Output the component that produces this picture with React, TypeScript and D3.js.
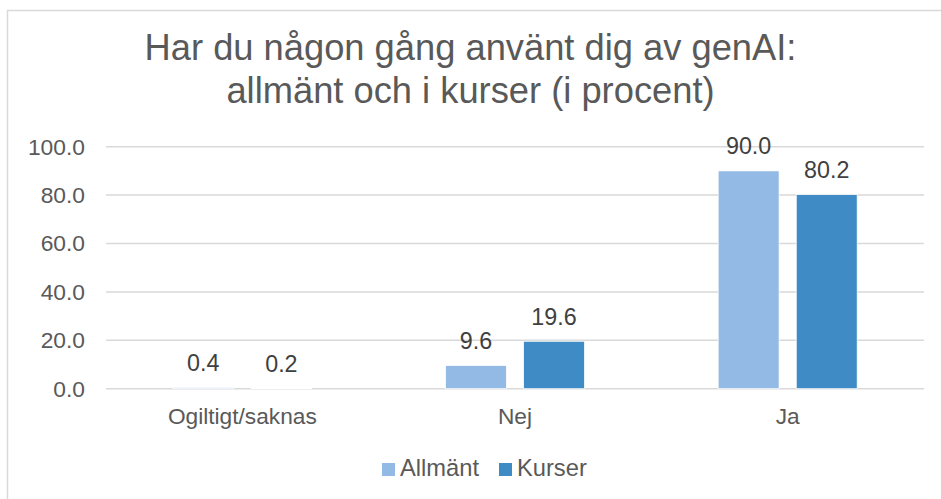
import React from "react";
import * as d3 from "d3";

const categories = ["Ogiltigt/saknas", "Nej", "Ja"];
const allmant = [0.4, 9.6, 90.0];
const kurser = [0.2, 19.6, 80.2];
const seriesNames = ["Allmänt", "Kurser"];
const yTicks = [0, 20, 40, 60, 80, 100];
const titleLines = ["Har du någon gång använt dig av genAI:", "allmänt och i kurser (i procent)"];

const W = 941;
const H = 499;
const colors = ["#93BAE5", "#3F8BC5"];
const FONT = "'Liberation Sans', Arial, sans-serif";

export default function App() {
  const x = d3.scaleBand<string>().domain(categories).range([106, 924]).paddingInner(0).paddingOuter(0);
  const y = d3.scaleLinear().domain([0, 100]).range([388.7, 146.7]);
  const sub = d3.scaleBand<string>().domain(seriesNames).range([0, 139]).paddingInner(0.22).paddingOuter(0);
  const groupOffset = (x.bandwidth() - 139) / 2;
  const series = [allmant, kurser];

  return (
    <svg width={W} height={H} style={{ position: "absolute", left: 0, top: 0, background: "#fff" }} fontFamily={FONT}>
      <rect x={0} y={0} width={W} height={H} fill="#fff" />
      <path d={`M7.5,${H + 2}V10.5H${W + 2}`} fill="none" stroke="#d9d9d9" strokeWidth={1.5} />
      {titleLines.map((t, i) => (
        <text key={i} x={470.5} y={59.5 + i * 43} textAnchor="middle" fontSize={36.3} fill="#595959">
          {t}
        </text>
      ))}
      {yTicks.map((t) => (
        <g key={t}>
          <line x1={106} x2={924} y1={y(t)} y2={y(t)} stroke="#d9d9d9" strokeWidth={1.5} />
          <text x={85} y={y(t)} dy="0.35em" textAnchor="end" fontSize={22.8} fill="#595959">
            {t.toFixed(1)}
          </text>
        </g>
      ))}
      {categories.map((c, ci) => (
        <g key={c}>
          {series.map((s, si) => {
            const bx = (x(c) as number) + groupOffset + (sub(seriesNames[si]) as number);
            const bw = sub.bandwidth();
            const v = s[ci];
            return (
              <g key={si}>
                <rect x={bx} y={y(v)} width={bw} height={y(0) - y(v)} fill={colors[si]} stroke="#fff" strokeWidth={0.75} />
                <text x={bx + bw / 2} y={y(v) - 16.5} textAnchor="middle" fontSize={23.3} fill="#404040">
                  {v.toFixed(1)}
                </text>
              </g>
            );
          })}
          <text x={(x(c) as number) + x.bandwidth() / 2} y={424} textAnchor="middle" fontSize={22.7} fill="#595959">
            {c}
          </text>
        </g>
      ))}
      <g>
        <rect x={382} y={463} width={13} height={13} fill={colors[0]} />
        <text x={400} y={476} fontSize={23.7} fill="#595959">{seriesNames[0]}</text>
        <rect x={499} y={463} width={13} height={13} fill={colors[1]} />
        <text x={517} y={476} fontSize={23.7} fill="#595959">{seriesNames[1]}</text>
      </g>
    </svg>
  );
}
